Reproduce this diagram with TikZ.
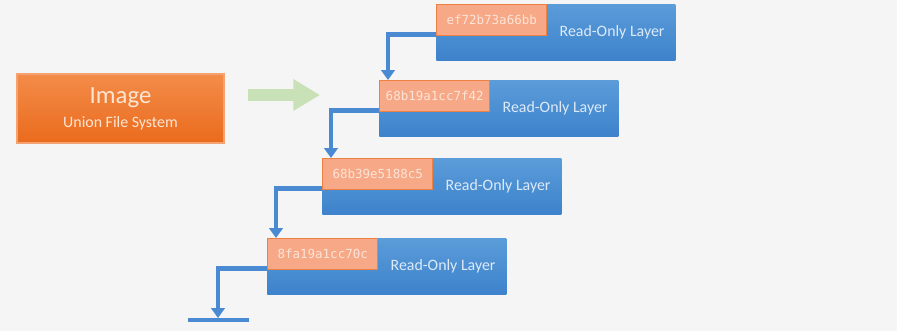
\documentclass[tikz,border=0pt]{standalone}
\usepackage{fontspec}
\newfontfamily\uifont{Carlito}
\newfontfamily\hashfont{DejaVu Sans Mono}
\usepackage{xcolor}
\definecolor{canvas}{HTML}{F5F5F5}
\definecolor{layertop}{HTML}{5B9CD9}
\definecolor{layerbot}{HTML}{3D82CB}
\definecolor{tagfill}{HTML}{F7A886}
\definecolor{tagedge}{HTML}{EE8041}
\definecolor{tagtext}{HTML}{FDE4D8}
\definecolor{lbltext}{HTML}{DCEAF8}
\definecolor{imgtop}{HTML}{F38C49}
\definecolor{imgbot}{HTML}{EA6B1D}
\definecolor{imgedge}{HTML}{F4A271}
\definecolor{imgtext}{HTML}{FDE5D3}
\definecolor{linkblue}{HTML}{4A8AD3}
\definecolor{flowgreen}{HTML}{C8E1B6}
\usetikzlibrary{arrows.meta, positioning, calc}

\begin{document}
\begin{tikzpicture}[x=0.025cm, y=-0.025cm,
  layer/.style={top color=layertop, bottom color=layerbot, draw=none,
    minimum width=5.975cm, minimum height=1.4cm, inner sep=0pt, anchor=north west},
  tag/.style={fill=tagfill, draw=tagedge, line width=1pt,
    minimum width=2.75cm, minimum height=0.775cm, inner sep=0pt, anchor=north west,
    font=\hashfont\fontsize{8.9}{10}\selectfont, text=tagtext},
  lbl/.style={font=\uifont\fontsize{11.3}{13}\selectfont, text=lbltext, inner sep=0pt},
  imgbox/.style={top color=imgtop, bottom color=imgbot, draw=imgedge, line width=0.8pt,
    minimum width=5.175cm, minimum height=1.725cm, align=center, text=imgtext, font=\uifont},
  link/.style={draw=linkblue, line width=3.1pt, -{Triangle[width=9.5pt,length=7pt]}},
  flow/.style={draw=flowgreen, line width=8.5pt, -{Triangle[width=21.3pt,length=19pt]}}
]
  \fill[canvas] (0,0) rectangle (897,331);
  \useasboundingbox (0,0) rectangle (897,331);

  % image
  \node[imgbox] (image) at (120.5,108.5)
    {{\fontsize{17.6}{20}\selectfont Image}\\[5pt]{\fontsize{11.3}{13}\selectfont Union File System}};
  \coordinate (flowA) at (248,95);
  \coordinate (flowB) at (320,95);
  \draw[flow] (flowA) -- (flowB);

  % read-only layers
  \node[layer] (l1) at (436,4) {};
  \node[tag] (tag1) at (l1.north west) {ef72b73a66bb};
  \node[lbl] (lbl1) at ([xshift=40pt]l1.center) {Read-Only Layer};

  \node[layer] (l2) at (379,80) {};
  \node[tag] (tag2) at (l2.north west) {68b19a1cc7f42};
  \node[lbl] (lbl2) at ([xshift=40pt]l2.center) {Read-Only Layer};

  \node[layer] (l3) at (322,158) {};
  \node[tag] (tag3) at (l3.north west) {68b39e5188c5};
  \node[lbl] (lbl3) at ([xshift=40pt]l3.center) {Read-Only Layer};

  \node[layer] (l4) at (267,238) {};
  \node[tag] (tag4) at (l4.north west) {8fa19a1cc70c};
  \node[lbl] (lbl4) at ([xshift=40pt]l4.center) {Read-Only Layer};

  % parent links
  \draw[link] ([yshift=1.4pt]tag1.south west) -| ([xshift=6.4pt]l2.north west);
  \draw[link] ([yshift=1.4pt]tag2.south west) -| ([xshift=6.4pt]l3.north west);
  \draw[link] ([yshift=1.4pt]tag3.south west) -| ([xshift=6.4pt]l4.north west);
  \coordinate (gnd) at (218,320);
  \draw[link] ([yshift=1.4pt]tag4.south west) -| ([yshift=1.4pt]gnd);
  \draw[linkblue, line width=3.1pt] ([xshift=-21.3pt]gnd) -- ([xshift=22pt]gnd);
\end{tikzpicture}
\end{document}
